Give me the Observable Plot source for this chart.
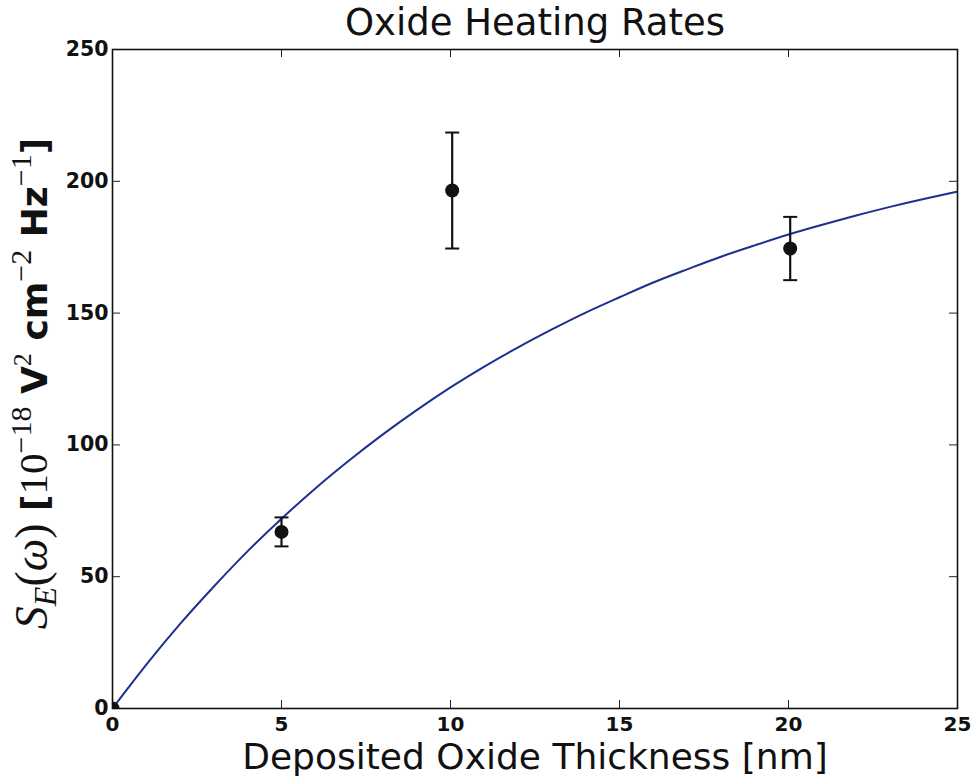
<!DOCTYPE html>
<html>
<head>
<meta charset="utf-8">
<script src="https://cdn.jsdelivr.net/npm/d3@7"></script>
<script src="https://cdn.jsdelivr.net/npm/@observablehq/plot@0.6"></script>
<style>
  body { margin: 0; background: #fff; }
  #chart svg { display: block; }
</style>
</head>
<body>
<div id="chart"></div>
<script>
// Measured heating rates vs. deposited oxide thickness
const thickness = [0, 5, 10.05, 20.05];
const rate = [0, 67, 196.5, 174.5];
const rateErr = [0, 5.5, 22, 12];

// Saturating fit curve, sampled every nanometre
const fitThickness = [0, 1, 2, 3, 4, 5, 6, 7, 8, 9, 10, 11, 12, 13, 14, 15, 16, 17, 18, 19, 20, 21, 22, 23, 24, 25];
const fitRate = [0, 16.6, 32.1, 46.3, 59.7, 72.0, 83.5, 94.1, 104.0, 113.2, 121.8, 129.7, 137.0, 143.8, 150.2, 156.0, 161.6, 166.6, 171.4, 175.7, 179.8, 183.5, 187.0, 190.3, 193.3, 196.1];

const xTicks = [0, 5, 10, 15, 20, 25];
const yTicks = [0, 50, 100, 150, 200, 250];

const titleText = "Oxide Heating Rates";
const xLabelText = "Deposited Oxide Thickness [nm]";

const points = thickness.map((x, i) => ({x, y: rate[i], err: rateErr[i]}));
const bars = points.filter(d => d.err > 0);
const fit = fitThickness.map((x, i) => ({x, y: fitRate[i]}));

const W = 973, H = 782;
const mL = 112, mR = 16, mT = 49, mB = 74;
const frameW = W - mL - mR, frameH = H - mT - mB;
const tickLen = 8;
const ink = "#111";

// horizontal cap for the error bars
const capSymbol = {
  draw(context, size) {
    const w = Math.sqrt(size / Math.PI);
    context.moveTo(-w, 0);
    context.lineTo(w, 0);
  }
};

const chart = Plot.plot({
  width: W,
  height: H,
  marginLeft: mL,
  marginRight: mR,
  marginTop: mT,
  marginBottom: mB,
  style: {fontFamily: "DejaVu Sans", background: "#fff", color: ink},
  x: {domain: [0, 25]},
  y: {domain: [0, 250]},
  marks: [
    Plot.line(fit, {x: "x", y: "y", stroke: "#1d3090", strokeWidth: 2, curve: "natural", clip: true}),
    Plot.ruleX(bars, {x: "x", y1: d => d.y - d.err, y2: d => d.y + d.err, stroke: ink, strokeWidth: 2.2}),
    Plot.dot(bars, {x: "x", y: d => d.y - d.err, symbol: capSymbol, r: 7, stroke: ink, strokeWidth: 2, fill: "none"}),
    Plot.dot(bars, {x: "x", y: d => d.y + d.err, symbol: capSymbol, r: 7, stroke: ink, strokeWidth: 2, fill: "none"}),
    Plot.dot(points, {x: "x", y: "y", r: 7, fill: ink, stroke: "none", clip: true}),
    // inward ticks on all four sides
    Plot.ruleX(xTicks, {x: d => d, insetTop: frameH - tickLen, stroke: "#222", strokeWidth: 1}),
    Plot.ruleX(xTicks, {x: d => d, insetBottom: frameH - tickLen, stroke: "#222", strokeWidth: 1}),
    Plot.ruleY(yTicks, {y: d => d, insetRight: frameW - tickLen, stroke: "#222", strokeWidth: 1}),
    Plot.ruleY(yTicks, {y: d => d, insetLeft: frameW - tickLen, stroke: "#222", strokeWidth: 1}),
    Plot.frame({stroke: ink, strokeWidth: 1.6}),
    Plot.axisX({ticks: xTicks, tickSize: 0, tickPadding: 8, label: null, fontSize: 20, fontWeight: "bold", fill: ink}),
    Plot.axisY({ticks: yTicks, tickSize: 0, tickPadding: 4, label: null, fontSize: 20.5, fontWeight: "bold", fill: ink}),
    Plot.text([titleText], {frameAnchor: "top", lineAnchor: "middle", dy: -26, fontSize: 37, fill: ink}),
    Plot.text([xLabelText], {frameAnchor: "bottom", lineAnchor: "middle", dy: 49, fontSize: 36, fill: ink})
  ]
});

document.getElementById("chart").appendChild(chart);

// y-axis label with math-style parts
const serif = "'Liberation Serif', 'DejaVu Serif', serif";
const sans = "'DejaVu Sans', sans-serif";
const yLabelParts = [
  {t: "S", f: serif, s: "italic", w: "normal", z: 46, b: 0},
  {t: "E", f: serif, s: "italic", w: "normal", z: 32, b: 9},
  {t: "(", f: serif, s: "normal", w: "normal", z: 46, b: 0},
  {t: "ω", f: serif, s: "italic", w: "normal", z: 46, b: 0},
  {t: ")", f: serif, s: "normal", w: "normal", z: 46, b: 0},
  {t: " [", f: sans, s: "normal", w: "bold", z: 36, b: 0},
  {t: "10", f: serif, s: "normal", w: "normal", z: 41, b: 0},
  {t: "−18", f: serif, s: "normal", w: "normal", z: 30, b: -16},
  {t: " V", f: sans, s: "normal", w: "bold", z: 36, b: 0},
  {t: "2", f: serif, s: "normal", w: "normal", z: 26, b: -16},
  {t: " cm", f: sans, s: "normal", w: "bold", z: 36, b: 0},
  {t: "−2", f: serif, s: "normal", w: "normal", z: 30, b: -16},
  {t: " Hz", f: sans, s: "normal", w: "bold", z: 36, b: 0},
  {t: "−1", f: serif, s: "normal", w: "normal", z: 30, b: -16},
  {t: "]", f: sans, s: "normal", w: "bold", z: 36, b: 0}
];
const yLabel = d3.select(chart).append("text")
  .attr("transform", `translate(47,${mT + frameH / 2 + 5}) rotate(-90)`)
  .attr("text-anchor", "middle")
  .attr("fill", ink)
  .style("white-space", "pre");
let prev = 0;
for (const p of yLabelParts) {
  yLabel.append("tspan")
    .attr("dy", p.b - prev)
    .attr("font-family", p.f)
    .attr("font-style", p.s)
    .attr("font-weight", p.w)
    .attr("font-size", p.z)
    .text(p.t);
  prev = p.b;
}
</script>
</body>
</html>
